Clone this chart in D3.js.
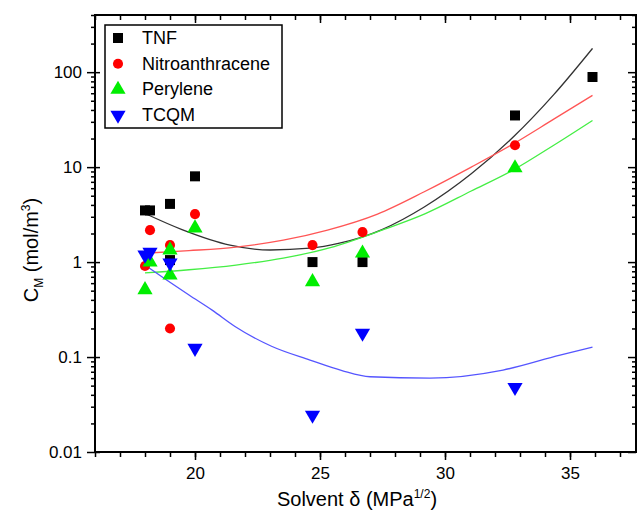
<!DOCTYPE html>
<html><head><meta charset="utf-8">
<script src="https://cdn.jsdelivr.net/npm/d3@7"></script>
<style>body{margin:0;background:#fff}svg{display:block}</style>
</head><body>
<svg id="c" width="637" height="516"></svg>
<script>
// ---- data ----
const seriesNames = ["TNF", "Nitroanthracene", "Perylene", "TCQM"];
const seriesColors = ["#000000", "#ff0000", "#00ee00", "#0000ff"];
const curveColors = ["#333333", "#ff5555", "#44ee44", "#5555ff"];
const tnf = [[18.0,3.5],[18.2,3.5],[19.0,4.1],[19.0,1.05],[20.0,8.0],[24.7,1.0],[26.7,1.0],[32.8,35],[35.9,89]];
const nitro = [[18.0,0.91],[18.2,2.17],[19.0,1.51],[19.0,0.2],[20.0,3.2],[24.7,1.51],[26.7,2.07],[32.8,17]];
const perylene = [[18.0,0.51],[18.2,1.0],[19.0,1.34],[19.0,0.73],[20.0,2.28],[24.7,0.62],[26.7,1.24],[32.8,9.8]];
const tcqm = [[18.0,1.19],[18.2,1.27],[19.0,0.98],[20.0,0.124],[24.7,0.0245],[26.7,0.179],[32.8,0.048]];
const fitTnf = [[18.0,3.25],[19.48,2.2],[21.4,1.51],[23.0,1.34],[24.6,1.40],[25.78,1.58],[27.48,2.2],[29.17,3.8],[31.05,8.5],[32.75,21],[34.35,58],[35.9,178]];
const fitNitro = [[18.0,1.24],[19.76,1.32],[21.64,1.44],[23.53,1.7],[25.3,2.17],[27.3,3.2],[29.17,5.5],[31.05,10],[32.72,17.5],[34.35,32],[35.9,57]];
const fitPerylene = [[18.0,0.77],[19.76,0.83],[21.64,0.93],[23.53,1.1],[25.41,1.42],[27.48,2.17],[29.17,3.2],[31.05,5.6],[32.72,9.3],[34.35,17],[35.9,31]];
const fitTcqm = [[18.0,0.93],[18.82,0.66],[19.76,0.45],[20.7,0.31],[21.6,0.21],[23.06,0.13],[24.6,0.093],[25.88,0.072],[27.0,0.062],[29.4,0.060],[32.32,0.073],[34.6,0.105],[35.9,0.127]];
const xMajorTicks = [20, 25, 30, 35];
const yMajorTicks = [0.01, 0.1, 1, 10, 100];

const svg = d3.select("#c");
const font = "'Liberation Sans', Arial, sans-serif";
const L = 95, R = 636, T = 15, B = 452;
const x = d3.scaleLinear().domain([16, 37.64]).range([L, R]);
const y = d3.scaleLog().domain([0.01, 400]).range([B, T]);

const xMinor = d3.range(16, 38, 1);
const yMinor = [];
for (let e = -2; e <= 2; e++) for (let k = 2; k <= 9; k++) { const v = k * Math.pow(10, e); if (v <= 400) yMinor.push(v); }

// axes
function styleAxis(g) { g.select(".domain").remove(); g.selectAll("line").attr("stroke", "#000").attr("stroke-width", 1.5); }
svg.append("g").attr("transform", `translate(0,${B})`).call(d3.axisBottom(x).tickValues(xMinor).tickSize(5).tickFormat("")).call(styleAxis);
svg.append("g").attr("transform", `translate(0,${B})`).call(d3.axisBottom(x).tickValues(xMajorTicks).tickSize(8).tickPadding(7).tickFormat(d3.format("d")))
  .call(styleAxis).selectAll("text").attr("font-family", font).attr("font-size", 17).attr("fill", "#000");
svg.append("g").attr("transform", `translate(0,${T})`).call(d3.axisBottom(x).tickValues(xMinor).tickSize(5).tickFormat("")).call(styleAxis);
svg.append("g").attr("transform", `translate(0,${T})`).call(d3.axisBottom(x).tickValues(xMajorTicks).tickSize(8).tickFormat("")).call(styleAxis);

svg.append("g").attr("transform", `translate(${L},0)`).call(d3.axisLeft(y).tickValues(yMinor).tickSize(4).tickFormat("")).call(styleAxis);
svg.append("g").attr("transform", `translate(${L},0)`).call(d3.axisLeft(y).tickValues(yMajorTicks).tickSize(8).tickPadding(5).tickFormat(d => d >= 1 ? d3.format("d")(d) : String(d)))
  .call(styleAxis).selectAll("text").attr("font-family", font).attr("font-size", 17).attr("fill", "#000");
svg.append("g").attr("transform", `translate(${L},0)`).call(d3.axisRight(y).tickValues(yMajorTicks).tickSize(5).tickFormat("")).call(styleAxis);
svg.append("g").attr("transform", `translate(${R},0)`).call(d3.axisRight(y).tickValues(yMinor).tickSize(-4).tickFormat("")).call(styleAxis);
svg.append("g").attr("transform", `translate(${R},0)`).call(d3.axisRight(y).tickValues(yMajorTicks).tickSize(-8).tickFormat("")).call(styleAxis);

// frame
svg.append("rect").attr("x", L).attr("y", T).attr("width", R - L).attr("height", B - T)
  .attr("fill", "none").attr("stroke", "#000").attr("stroke-width", 2);

// fit curves
const line = d3.line().x(d => x(d[0])).y(d => y(d[1])).curve(d3.curveMonotoneX);
const fits = [fitTnf, fitNitro, fitPerylene, fitTcqm];
fits.forEach((f, i) => svg.append("path").attr("d", line(f)).attr("fill", "none").attr("stroke", curveColors[i]).attr("stroke-width", 1.3));

// markers
const sym = [d3.symbolSquare, d3.symbolCircle, d3.symbolTriangle, d3.symbolTriangle];
const symSize = [100, 80, 100, 100];
const rot = [0, 0, 0, 180];
function marker(g, i, cx, cy) {
  g.append("path").attr("d", d3.symbol().type(sym[i]).size(symSize[i])())
    .attr("transform", `translate(${cx},${cy}) rotate(${rot[i]})`).attr("fill", seriesColors[i]);
}
const data = [tnf, nitro, perylene, tcqm];
const mg = svg.append("g");
data.forEach((s, i) => s.forEach(d => marker(mg, i, x(d[0]), y(d[1]))));

// legend
const lg = svg.append("g");
lg.append("rect").attr("x", 105).attr("y", 25).attr("width", 177).attr("height", 103).attr("fill", "#fff").attr("stroke", "#000").attr("stroke-width", 1.5);
seriesNames.forEach((n, i) => {
  const yy = 38 + i * 25.7;
  marker(lg, i, 118, yy);
  lg.append("text").attr("x", 142).attr("y", yy + 6).attr("font-family", font).attr("font-size", 18).text(n);
});

// axis titles
const xt = svg.append("text").attr("x", 357).attr("y", 506).attr("text-anchor", "middle").attr("font-family", font).attr("font-size", 20);
xt.append("tspan").text("Solvent δ (MPa");
xt.append("tspan").attr("font-size", 12).attr("dy", -8).text("1/2");
xt.append("tspan").attr("dy", 8).text(")");
const yt = svg.append("text").attr("transform", "translate(38,250) rotate(-90)").attr("text-anchor", "middle").attr("font-family", font).attr("font-size", 20);
yt.append("tspan").text("C");
yt.append("tspan").attr("font-size", 12).attr("dy", 5).text("M");
yt.append("tspan").attr("dy", -5).text(" (mol/m");
yt.append("tspan").attr("font-size", 12).attr("dy", -8).text("3");
yt.append("tspan").attr("dy", 8).text(")");
</script>
</body></html>
